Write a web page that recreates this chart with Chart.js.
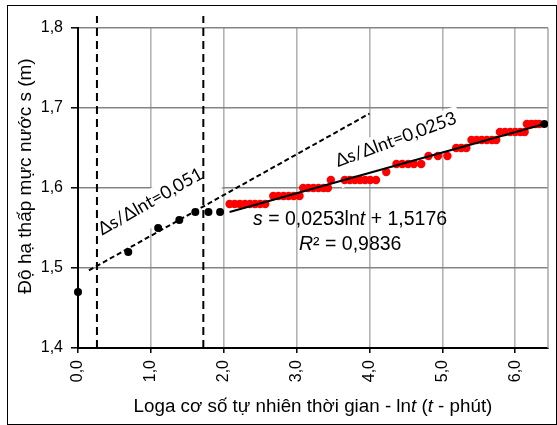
<!DOCTYPE html>
<html>
<head>
<meta charset="utf-8">
<script src="https://cdn.jsdelivr.net/npm/chart.js@4.4.0/dist/chart.umd.min.js"></script>
<style>
  body { margin: 0; background: #fff; }
  #frame { position: absolute; left: 7px; top: 5px; width: 548px; height: 418px; border: 1px solid #000; }
  canvas { display: block; }
</style>
</head>
<body>
<div id="frame"><canvas id="chart" width="548" height="418"></canvas></div>
<script>
// Drawdown s (m) against ln t (t in minutes)

// first minutes (black points)
const earlyLnT = [0.00, 0.69, 1.10, 1.39, 1.61, 1.79, 1.95];
const earlyS   = [1.47, 1.52, 1.55, 1.56, 1.57, 1.57, 1.57];

// later readings (red points)
const lateLnT = [
  2.08, 2.15, 2.22, 2.29, 2.36, 2.43, 2.50, 2.57,
  2.68, 2.75, 2.82, 2.89, 2.96, 3.04,
  3.09, 3.16, 3.23, 3.30, 3.37, 3.43,
  3.47, 3.66, 3.73, 3.80, 3.87, 3.94, 4.01, 4.09,
  4.23,
  4.37, 4.45, 4.53, 4.61, 4.71,
  4.81, 4.94, 5.07,
  5.19, 5.26, 5.33,
  5.40, 5.47, 5.54, 5.61, 5.68, 5.74,
  5.79, 5.86, 5.93, 6.00, 6.07, 6.13,
  6.16, 6.22, 6.28, 6.33
];
const lateS = [
  1.58, 1.58, 1.58, 1.58, 1.58, 1.58, 1.58, 1.58,
  1.59, 1.59, 1.59, 1.59, 1.59, 1.59,
  1.60, 1.60, 1.60, 1.60, 1.60, 1.60,
  1.61, 1.61, 1.61, 1.61, 1.61, 1.61, 1.61, 1.61,
  1.62,
  1.63, 1.63, 1.63, 1.63, 1.63,
  1.64, 1.64, 1.64,
  1.65, 1.65, 1.65,
  1.66, 1.66, 1.66, 1.66, 1.66, 1.66,
  1.67, 1.67, 1.67, 1.67, 1.67, 1.67,
  1.68, 1.68, 1.68, 1.68
];

// final reading (black)
const lastLnT = [6.40];
const lastS   = [1.68];

// early slope (dashed) and late trend line (solid)
const slopeLnT = [0.15, 4.00];
const slopeS   = [1.497, 1.693];
const trendLnT = [2.08, 6.40];
const trendS   = [1.570, 1.680];

// vertical dashed limits
const limitLnT = [0.26, 1.72];
const limitS   = [1.40, 1.815];

const xTicks = [0, 1, 2, 3, 4, 5, 6];
const yTicks = [1.4, 1.5, 1.6, 1.7, 1.8];

const FONT = "'Liberation Sans', Arial, sans-serif";

function pts(xs, ys) {
  return xs.map((x, i) => ({ x: x, y: ys[i] }));
}
function comma(v) {
  return Number(v).toFixed(1).replace('.', ',');
}

// draw a row of text pieces, some italic
function drawRuns(ctx, runs, x, y, size, align) {
  let total = 0;
  runs.forEach(r => {
    ctx.font = (r.italic ? 'italic ' : '') + size + 'px ' + FONT;
    r.w = ctx.measureText(r.text).width;
    total += r.w;
  });
  let cx = align === 'center' ? x - total / 2 : x;
  ctx.textAlign = 'left';
  runs.forEach(r => {
    ctx.font = (r.italic ? 'italic ' : '') + size + 'px ' + FONT;
    ctx.fillText(r.text, cx, y);
    cx += r.w;
  });
}

function whiteBox(ctx, cx, cy, w, h, deg) {
  ctx.save();
  ctx.translate(cx, cy);
  ctx.rotate(deg * Math.PI / 180);
  ctx.fillStyle = '#fff';
  ctx.fillRect(-w / 2, -h / 2, w, h);
  ctx.restore();
}

function rotatedLabel(ctx, text, x, y, deg) {
  ctx.save();
  ctx.translate(x, y);
  ctx.rotate(deg * Math.PI / 180);
  ctx.font = "18px Lato, 'Liberation Sans', sans-serif";
  ctx.fillStyle = '#000';
  ctx.textAlign = 'center';
  ctx.textBaseline = 'alphabetic';
  ctx.fillText(text, 0, 0);
  ctx.restore();
}

const decorations = {
  id: 'decorations',
  beforeDatasetsDraw(chart) {
    const ctx = chart.ctx;
    const area = chart.chartArea;
    ctx.save();
    // right border of plot
    ctx.strokeStyle = '#a6a6a6';
    ctx.lineWidth = 1.5;
    ctx.beginPath();
    ctx.moveTo(area.right, area.top);
    ctx.lineTo(area.right, area.bottom);
    ctx.stroke();
    // label backgrounds
    whiteBox(ctx, 145, 201, 140, 35, -29.6);
    whiteBox(ctx, 391, 141, 135, 38, -20.2);
    ctx.restore();
  },
  afterDatasetsDraw(chart) {
    const ctx = chart.ctx;
    ctx.save();
    ctx.fillStyle = '#000';
    ctx.textBaseline = 'alphabetic';

    rotatedLabel(ctx, '\u0394s/\u0394lnt=0,051', 145.3, 200.5, -29.6);
    rotatedLabel(ctx, '\u0394s/\u0394lnt=0,0253', 390, 139, -20.2);

    drawRuns(ctx, [
      { text: 's', italic: true },
      { text: ' = 0,0253ln' },
      { text: 't', italic: true },
      { text: ' + 1,5176' }
    ], 245, 219, 19.5, 'left');
    drawRuns(ctx, [
      { text: 'R', italic: true },
      { text: '\u00b2 = 0,9836' }
    ], 291, 244, 19.5, 'left');

    // x axis title
    drawRuns(ctx, [
      { text: 'Loga c\u01a1 s\u1ed1 t\u1ef1 nhi\u00ean th\u1eddi gian - ln' },
      { text: 't', italic: true },
      { text: ' (' },
      { text: 't', italic: true },
      { text: ' - ph\u00fat)' }
    ], 305, 406, 18.8, 'center');

    // y axis title
    ctx.translate(23, 170);
    ctx.rotate(-Math.PI / 2);
    ctx.font = '19px ' + FONT;
    ctx.textAlign = 'center';
    ctx.fillText('\u0110\u1ed9 h\u1ea1 th\u1ea5p m\u1ef1c n\u01b0\u1edbc s (m)', 0, 0);
    ctx.restore();
  }
};

new Chart(document.getElementById('chart'), {
  type: 'scatter',
  data: {
    datasets: [
      {
        data: pts(lastLnT, lastS),
        backgroundColor: '#000',
        borderWidth: 0,
        pointRadius: 4
      },
      {
        data: pts(trendLnT, trendS),
        showLine: true,
        borderColor: '#000',
        borderWidth: 2,
        pointRadius: 0
      },
      {
        data: pts(lateLnT, lateS),
        backgroundColor: '#ff0000',
        borderWidth: 0,
        pointRadius: 4.2
      },
      {
        data: pts(earlyLnT, earlyS),
        backgroundColor: '#000',
        borderWidth: 0,
        pointRadius: 4,
        clip: false
      },
      {
        data: pts(slopeLnT, slopeS),
        showLine: true,
        borderColor: '#000',
        borderWidth: 2,
        borderDash: [5, 3],
        pointRadius: 0
      },
      {
        data: [{ x: limitLnT[0], y: limitS[0] }, { x: limitLnT[0], y: limitS[1] }],
        showLine: true,
        borderColor: '#000',
        borderWidth: 2,
        borderDash: [8, 5],
        pointRadius: 0,
        clip: false
      },
      {
        data: [{ x: limitLnT[1], y: limitS[0] }, { x: limitLnT[1], y: limitS[1] }],
        showLine: true,
        borderColor: '#000',
        borderWidth: 2,
        borderDash: [8, 5],
        pointRadius: 0,
        clip: false
      }
    ]
  },
  options: {
    responsive: false,
    animation: false,
    events: [],
    layout: { padding: { top: 22, right: 8, left: 0, bottom: 0 } },
    plugins: {
      legend: { display: false },
      tooltip: { enabled: false }
    },
    scales: {
      x: {
        type: 'linear',
        min: 0,
        max: 6.45,
        afterBuildTicks: scale => { scale.ticks = xTicks.map(v => ({ value: v })); },
        afterFit: scale => { scale.height = 76; },
        grid: {
          color: '#b3b3b3',
          lineWidth: 1.6,
          tickColor: '#000',
          tickLength: 5,
          tickWidth: 1.5
        },
        border: { color: '#000', width: 2 },
        ticks: {
          color: '#000',
          font: { family: FONT, size: 16 },
          maxRotation: 90,
          minRotation: 90,
          padding: 7,
          callback: v => comma(v)
        }
      },
      y: {
        min: 1.4,
        max: 1.8,
        afterBuildTicks: scale => { scale.ticks = yTicks.map(v => ({ value: v })); },
        afterFit: scale => { scale.width = 70; },
        grid: {
          color: '#848484',
          lineWidth: 1.6,
          tickColor: '#000',
          tickLength: 7,
          tickWidth: 1.5
        },
        border: { color: '#000', width: 2 },
        ticks: {
          color: '#000',
          font: { family: FONT, size: 16 },
          padding: 8,
          callback: v => comma(v)
        }
      }
    }
  },
  plugins: [decorations]
});
</script>
</body>
</html>
